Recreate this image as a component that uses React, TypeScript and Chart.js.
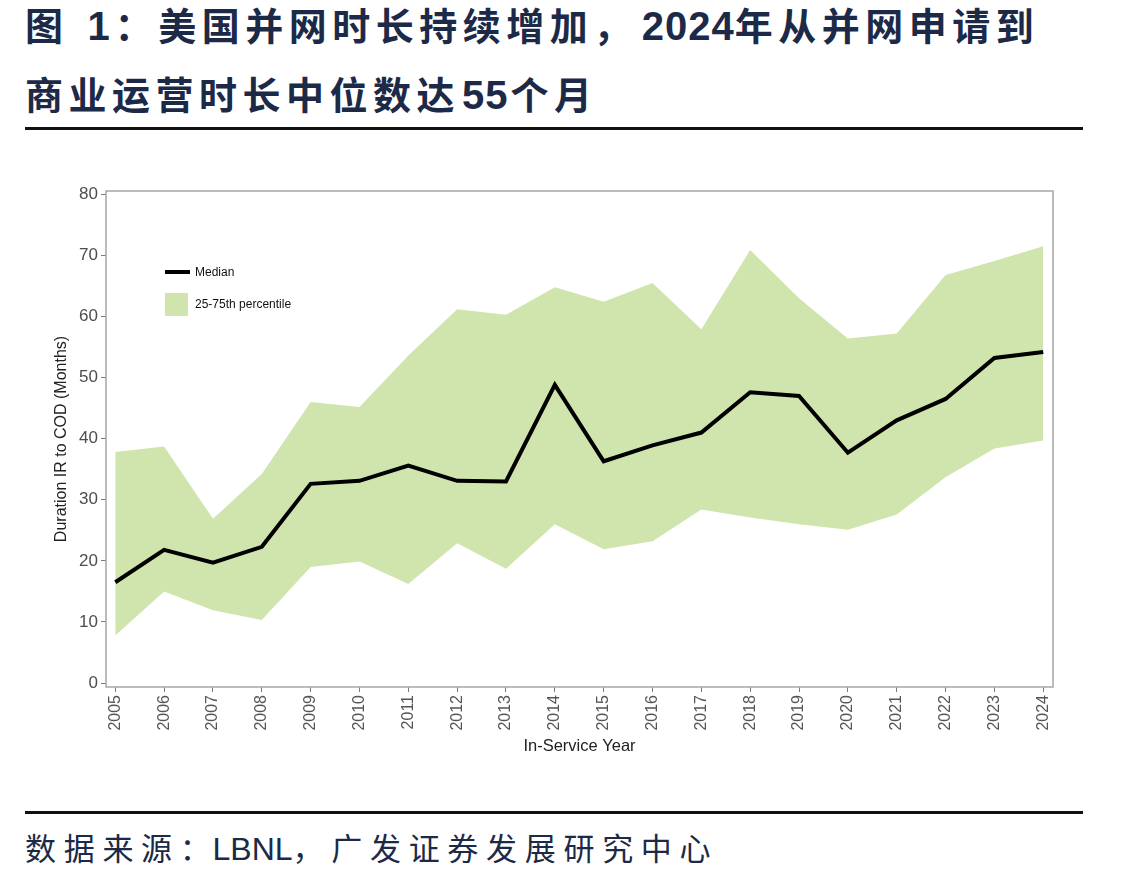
import React, { useEffect, useRef } from "react";
import { Chart, registerables } from "chart.js";

Chart.register(...registerables);

const years = [2005, 2006, 2007, 2008, 2009, 2010, 2011, 2012, 2013, 2014, 2015, 2016, 2017, 2018, 2019, 2020, 2021, 2022, 2023, 2024];
const median = [16.5, 21.8, 19.7, 22.3, 32.6, 33.1, 35.6, 33.1, 33.0, 48.8, 36.3, 38.9, 41.0, 47.6, 47.0, 37.7, 43.0, 46.5, 53.2, 54.2];
const p75 = [37.8, 38.7, 26.9, 34.2, 46.0, 45.2, 53.6, 61.2, 60.3, 64.8, 62.4, 65.5, 57.9, 70.9, 63.0, 56.4, 57.2, 66.8, 69.1, 71.5];
const p25 = [7.8, 15.0, 11.9, 10.3, 19.0, 19.9, 16.2, 22.9, 18.7, 26.0, 21.9, 23.2, 28.4, 27.1, 26.0, 25.1, 27.6, 33.7, 38.4, 39.7];
const yTicks = [0, 10, 20, 30, 40, 50, 60, 70, 80];

const medianLabel = "Median";
const bandLabel = "25-75th percentile";
const yTitle = "Duration IR to COD (Months)";
const xTitle = "In-Service Year";
const titleLine1 = "图 1：美国并网时长持续增加，2024年从并网申请到";
const titleLine2 = "商业运营时长中位数达55个月";
const sourceText = "数据来源：LBNL，广发证券发展研究中心";

const BAND = "#d0e5ad";
const TEXT_DARK = "#1c2a47";
const LATIN = '"Liberation Sans", Arial, sans-serif';
const CJK = '"Liberation Sans", "Noto Sans CJK SC", sans-serif';

const insideLegend = {
  id: "insideLegend",
  afterDatasetsDraw(chart: any) {
    const { ctx, chartArea } = chart;
    const x0 = chartArea.left + 59;
    const y0 = chartArea.top + 81;
    ctx.save();
    ctx.strokeStyle = "#000";
    ctx.lineWidth = 4;
    ctx.beginPath();
    ctx.moveTo(x0, y0);
    ctx.lineTo(x0 + 25, y0);
    ctx.stroke();
    ctx.fillStyle = BAND;
    ctx.fillRect(x0, y0 + 21, 23, 23);
    ctx.fillStyle = "#111";
    ctx.font = '12px "Liberation Sans", Arial, sans-serif';
    ctx.textBaseline = "middle";
    ctx.fillText(chart.data.datasets[0].label, x0 + 30, y0 + 1);
    ctx.fillText(chart.data.datasets[1].label, x0 + 30, y0 + 33);
    ctx.restore();
  },
};

const plotBorder = {
  id: "plotBorder",
  afterDraw(chart: any) {
    const { ctx, chartArea } = chart;
    ctx.save();
    ctx.strokeStyle = "#a6a6a6";
    ctx.lineWidth = 1.5;
    ctx.strokeRect(chartArea.left, chartArea.top, chartArea.right - chartArea.left, chartArea.bottom - chartArea.top);
    ctx.restore();
  },
};

function ChartCanvas() {
  const ref = useRef<HTMLCanvasElement | null>(null);
  useEffect(() => {
    if (!ref.current) return;
    const chart = new Chart(ref.current, {
      type: "line",
      data: {
        datasets: [
          {
            label: medianLabel,
            data: years.map((y, i) => ({ x: y, y: median[i] })),
            borderColor: "#000",
            borderWidth: 4,
            pointRadius: 0,
            fill: false,
            tension: 0,
          },
          {
            label: bandLabel,
            data: years.map((y, i) => ({ x: y, y: p75[i] })),
            borderWidth: 0,
            borderColor: "rgba(0,0,0,0)",
            backgroundColor: BAND,
            pointRadius: 0,
            fill: "+1",
            tension: 0,
          },
          {
            label: "p25",
            data: years.map((y, i) => ({ x: y, y: p25[i] })),
            borderWidth: 0,
            borderColor: "rgba(0,0,0,0)",
            pointRadius: 0,
            fill: false,
            tension: 0,
          },
        ],
      },
      options: {
        responsive: false,
        animation: false,
        devicePixelRatio: 1,
        layout: { padding: { left: 48, right: 90, top: 41, bottom: 20 } },
        plugins: {
          legend: { display: false },
          tooltip: { enabled: false },
        },
        scales: {
          x: {
            type: "linear",
            min: 2004.81,
            max: 2024.2,
            afterBuildTicks: (scale: any) => {
              scale.ticks = years.map((v) => ({ value: v }));
            },
            afterFit: (scale: any) => {
              scale.height = 73;
            },
            grid: { display: true, drawOnChartArea: false, drawTicks: true, tickLength: 5, color: "#7a7a7a" },
            border: { display: false },
            ticks: {
              autoSkip: false,
              minRotation: 90,
              maxRotation: 90,
              padding: 3,
              color: "#555",
              font: { family: LATIN, size: 16 },
              callback: (v: any) => String(v),
            },
            title: {
              display: true,
              text: xTitle,
              color: "#222",
              font: { family: LATIN, size: 16.5 },
            },
          },
          y: {
            type: "linear",
            min: -0.65,
            max: 80.54,
            afterBuildTicks: (scale: any) => {
              scale.ticks = yTicks.map((v) => ({ value: v }));
            },
            afterFit: (scale: any) => {
              scale.width = 58;
            },
            grid: { display: true, drawOnChartArea: false, drawTicks: true, tickLength: 5, color: "#7a7a7a" },
            border: { display: false },
            ticks: {
              padding: 3,
              color: "#4d4d4d",
              font: { family: LATIN, size: 17 },
              callback: (v: any) => String(v),
            },
            title: {
              display: true,
              text: yTitle,
              color: "#222",
              font: { family: LATIN, size: 16 },
            },
          },
        },
      },
      plugins: [insideLegend, plotBorder],
    });
    return () => chart.destroy();
  }, []);
  return <canvas ref={ref} width={1143} height={630} style={{ display: "block", width: 1143, height: 630 }} />;
}

// Renders a mixed CJK/Latin line: runs of ASCII letters/digits get a Latin style with given margins.
function MixedText(props: { text: string; latinStyle: any; margins: number[][] }) {
  const parts = props.text.split(/([A-Za-z0-9]+)/).filter((p) => p.length > 0);
  let k = 0;
  return (
    <>
      {parts.map((p, i) => {
        if (/^[A-Za-z0-9]+$/.test(p)) {
          const m = props.margins[k] || [0, 0];
          k += 1;
          return (
            <span key={i} style={{ ...props.latinStyle, marginLeft: m[0], marginRight: m[1] }}>
              {p}
            </span>
          );
        }
        return <span key={i}>{p}</span>;
      })}
    </>
  );
}

export default function App() {
  const titleStyle: any = {
    position: "absolute",
    left: 25,
    height: 60,
    lineHeight: "60px",
    fontFamily: CJK,
    fontWeight: 700,
    fontSize: 38,
    letterSpacing: 5.5,
    color: TEXT_DARK,
    whiteSpace: "nowrap",
  };
  const titleLatin = { fontFamily: LATIN, fontSize: 40, letterSpacing: 1, fontWeight: 700 };
  return (
    <div style={{ position: "absolute", left: 0, top: 0, width: 1143, height: 882, background: "#fff", overflow: "hidden" }}>
      <div style={{ ...titleStyle, top: -4 }}>
        <MixedText text={titleLine1} latinStyle={titleLatin} margins={[[3, 4], [5, 0]]} />
      </div>
      <div style={{ ...titleStyle, top: 65 }}>
        <MixedText text={titleLine2} latinStyle={titleLatin} margins={[[2, 2]]} />
      </div>
      <div style={{ position: "absolute", left: 25, top: 127, width: 1058, height: 2.5, background: "#111" }} />
      <div style={{ position: "absolute", left: 0, top: 150 }}>
        <ChartCanvas />
      </div>
      <div style={{ position: "absolute", left: 25, top: 811, width: 1058, height: 2.5, background: "#111" }} />
      <div
        style={{
          position: "absolute",
          left: 25,
          top: 826,
          height: 46,
          lineHeight: "46px",
          fontFamily: CJK,
          fontWeight: 400,
          fontSize: 31,
          letterSpacing: 7.7,
          color: TEXT_DARK,
          whiteSpace: "nowrap",
        }}
      >
        <MixedText text={sourceText} latinStyle={{ fontFamily: LATIN, fontSize: 32, letterSpacing: 0 }} margins={[[-6, 0]]} />
      </div>
    </div>
  );
}
